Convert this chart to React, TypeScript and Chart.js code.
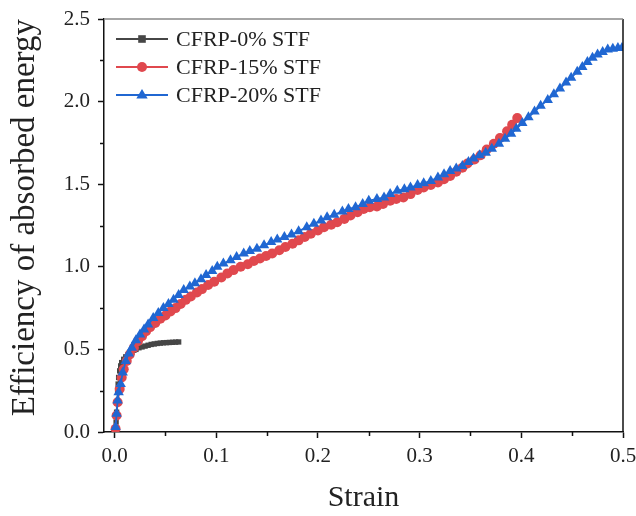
import React, { useEffect, useRef } from "react";
import { Chart, registerables } from "chart.js";
Chart.register(...registerables);

const FONT = "'Liberation Serif', 'Times New Roman', serif";

const X_TICKS = [0, 0.1, 0.2, 0.3, 0.4, 0.5];
const X_MINOR = [0.05, 0.15, 0.25, 0.35, 0.45];
const Y_TICKS = [0, 0.5, 1.0, 1.5, 2.0, 2.5];
const Y_MINOR = [0.25, 0.75, 1.25, 1.75, 2.25];

const SERIES_NAMES = ["CFRP-0% STF", "CFRP-15% STF", "CFRP-20% STF"];
const SERIES_COLORS = ["#464646", "#e0484e", "#2067d2"];

// CFRP-0% STF
const STF0_STRAIN = [0.001, 0.0015, 0.002, 0.0025, 0.003, 0.0035, 0.004, 0.005, 0.006, 0.007, 0.009, 0.011, 0.013, 0.015, 0.017, 0.019, 0.021, 0.024, 0.027, 0.03, 0.033, 0.036, 0.039, 0.042, 0.045, 0.048, 0.051, 0.054, 0.057, 0.06, 0.063];
const STF0_VALUE = [0.0, 0.06, 0.12, 0.18, 0.24, 0.29, 0.33, 0.37, 0.4, 0.42, 0.44, 0.455, 0.465, 0.475, 0.485, 0.495, 0.5, 0.51, 0.515, 0.52, 0.525, 0.53, 0.533, 0.536, 0.538, 0.54, 0.541, 0.542, 0.543, 0.544, 0.545];

// CFRP-15% STF
const STF15_STRAIN = [0.001, 0.002, 0.003, 0.005, 0.007, 0.009, 0.012, 0.015, 0.019, 0.023, 0.027, 0.031, 0.035, 0.04, 0.045, 0.05, 0.055, 0.06, 0.065, 0.07, 0.075, 0.081, 0.086, 0.092, 0.098, 0.105, 0.111, 0.117, 0.124, 0.131, 0.137, 0.143, 0.149, 0.155, 0.162, 0.168, 0.175, 0.181, 0.187, 0.193, 0.2, 0.206, 0.213, 0.219, 0.226, 0.232, 0.239, 0.245, 0.251, 0.258, 0.264, 0.271, 0.277, 0.284, 0.291, 0.298, 0.304, 0.311, 0.318, 0.324, 0.33, 0.336, 0.342, 0.347, 0.354, 0.36, 0.366, 0.373, 0.379, 0.386, 0.391, 0.396];
const STF15_VALUE = [0.02, 0.1, 0.18, 0.26, 0.33, 0.38, 0.43, 0.47, 0.51, 0.55, 0.58, 0.61, 0.635, 0.66, 0.685, 0.705, 0.73, 0.75, 0.775, 0.8, 0.82, 0.845, 0.865, 0.89, 0.91, 0.935, 0.96, 0.98, 1.0, 1.015, 1.035, 1.05, 1.065, 1.08, 1.1, 1.12, 1.14, 1.16, 1.18, 1.2, 1.22, 1.24, 1.255, 1.27, 1.29, 1.31, 1.33, 1.35, 1.36, 1.365, 1.38, 1.4, 1.41, 1.42, 1.44, 1.465, 1.48, 1.495, 1.51, 1.53, 1.55, 1.575, 1.6, 1.625, 1.65, 1.675, 1.71, 1.745, 1.78, 1.82, 1.86, 1.9];

// CFRP-20% STF
const STF20_STRAIN = [0.001, 0.002, 0.003, 0.004, 0.006, 0.008, 0.011, 0.014, 0.017, 0.021, 0.025, 0.029, 0.033, 0.038, 0.043, 0.048, 0.053, 0.058, 0.063, 0.068, 0.074, 0.079, 0.085, 0.09, 0.096, 0.101, 0.107, 0.114, 0.12, 0.127, 0.133, 0.14, 0.147, 0.154, 0.16, 0.167, 0.174, 0.181, 0.189, 0.196, 0.203, 0.209, 0.216, 0.224, 0.23, 0.237, 0.244, 0.25, 0.258, 0.265, 0.271, 0.278, 0.285, 0.291, 0.298, 0.304, 0.311, 0.318, 0.324, 0.33, 0.336, 0.342, 0.348, 0.353, 0.359, 0.365, 0.371, 0.378, 0.384, 0.39, 0.395, 0.401, 0.407, 0.413, 0.419, 0.426, 0.432, 0.438, 0.444, 0.449, 0.455, 0.46, 0.465, 0.47, 0.475, 0.48, 0.485, 0.49, 0.495, 0.499];
const STF20_VALUE = [0.03, 0.11, 0.19, 0.24, 0.29, 0.36, 0.43, 0.475, 0.51, 0.555, 0.59, 0.62, 0.65, 0.69, 0.72, 0.75, 0.775, 0.8, 0.83, 0.86, 0.88, 0.9, 0.925, 0.95, 0.975, 1.0, 1.02, 1.04, 1.06, 1.08, 1.095, 1.11, 1.13, 1.15, 1.165, 1.18, 1.195, 1.215, 1.24, 1.26, 1.28, 1.3, 1.315, 1.335, 1.35, 1.36, 1.38, 1.4, 1.41, 1.42, 1.44, 1.46, 1.47, 1.48, 1.495, 1.505, 1.52, 1.54, 1.56, 1.58, 1.595, 1.61, 1.635, 1.655, 1.675, 1.69, 1.715, 1.745, 1.775, 1.805, 1.835, 1.87, 1.905, 1.94, 1.975, 2.01, 2.045, 2.08, 2.115, 2.145, 2.18, 2.21, 2.24, 2.265, 2.285, 2.3, 2.315, 2.32, 2.325, 2.325];

const POINT_STYLES = ["rect", "circle", "triangle"];
const POINT_RADII = [3.8, 5, 6];

const toPoints = (xs: number[], ys: number[]) => xs.map((x, i) => ({ x, y: ys[i] }));

const framePlugin = {
  id: "frameMinor",
  afterDraw(chart: any) {
    const { ctx, chartArea: a, scales } = chart;
    ctx.save();
    ctx.strokeStyle = "#111";
    ctx.lineWidth = 1.5;
    ctx.beginPath();
    X_MINOR.forEach((v) => {
      const px = Math.round(scales.x.getPixelForValue(v)) + 0.5;
      ctx.moveTo(px, a.bottom);
      ctx.lineTo(px, a.bottom + 4);
    });
    Y_MINOR.forEach((v) => {
      const py = Math.round(scales.y.getPixelForValue(v)) + 0.5;
      ctx.moveTo(a.left, py);
      ctx.lineTo(a.left - 4, py);
    });
    ctx.stroke();
    ctx.beginPath();
    ctx.moveTo(a.right, a.top);
    ctx.lineTo(a.right, a.bottom);
    ctx.stroke();
    ctx.strokeStyle = "#888";
    ctx.beginPath();
    ctx.moveTo(a.left, a.top);
    ctx.lineTo(a.right, a.top);
    ctx.stroke();
    ctx.restore();
  },
};

const legendPlugin = {
  id: "innerLegend",
  afterDraw(chart: any) {
    const { ctx } = chart;
    const x0 = 116;
    const x1 = 168;
    const xm = 142;
    const rows = [39, 67, 95];
    ctx.save();
    SERIES_NAMES.forEach((name, i) => {
      const y = rows[i];
      const c = SERIES_COLORS[i];
      ctx.strokeStyle = c;
      ctx.lineWidth = 1.8;
      ctx.beginPath();
      ctx.moveTo(x0, y);
      ctx.lineTo(x1, y);
      ctx.stroke();
      ctx.fillStyle = c;
      const r = POINT_RADII[i];
      ctx.beginPath();
      if (POINT_STYLES[i] === "rect") {
        ctx.rect(xm - r, y - r, 2 * r, 2 * r);
      } else if (POINT_STYLES[i] === "circle") {
        ctx.arc(xm, y, r, 0, Math.PI * 2);
      } else {
        ctx.moveTo(xm, y - r);
        ctx.lineTo(xm + r * 0.95, y + r * 0.6);
        ctx.lineTo(xm - r * 0.95, y + r * 0.6);
        ctx.closePath();
      }
      ctx.fill();
      ctx.fillStyle = "#222";
      ctx.font = `22px ${FONT}`;
      ctx.textBaseline = "middle";
      ctx.textAlign = "left";
      ctx.fillText(name, 176, y + 1);
    });
    ctx.restore();
  },
};

export default function App() {
  const ref = useRef<HTMLCanvasElement>(null);
  useEffect(() => {
    if (!ref.current) return;
    const allX = [STF0_STRAIN, STF15_STRAIN, STF20_STRAIN];
    const allY = [STF0_VALUE, STF15_VALUE, STF20_VALUE];
    const datasets = SERIES_NAMES.map((name, i) => ({
      label: name,
      data: toPoints(allX[i], allY[i]),
      showLine: true,
      borderColor: SERIES_COLORS[i],
      backgroundColor: SERIES_COLORS[i],
      borderWidth: 1.8,
      pointStyle: POINT_STYLES[i],
      pointRadius: POINT_RADII[i],
      pointBorderWidth: 0,
      pointBackgroundColor: SERIES_COLORS[i],
      order: 3 - i,
    }));
    const chart = new Chart(ref.current, {
      type: "scatter",
      data: { datasets },
      options: {
        animation: false,
        responsive: false,
        maintainAspectRatio: false,
        layout: { padding: { top: 19, right: 13, left: 0, bottom: 0 } },
        plugins: { legend: { display: false }, tooltip: { enabled: false } },
        scales: {
          x: {
            type: "linear",
            min: -0.0104,
            max: 0.5,
            afterBuildTicks: (s: any) => {
              s.ticks = X_TICKS.map((v) => ({ value: v }));
            },
            afterFit: (s: any) => {
              s.height = 84;
              s.paddingLeft = 0;
              s.paddingRight = 0;
            },
            grid: { drawOnChartArea: false, drawTicks: true, tickLength: 6, tickColor: "#111", tickWidth: 1.5 },
            border: { color: "#111", width: 1.5 },
            ticks: {
              callback: (v: any) => Number(v).toFixed(1),
              font: { family: FONT, size: 21 },
              color: "#222",
              padding: 6,
              maxRotation: 0,
              autoSkip: false,
            },
            title: {
              display: true,
              text: "Strain",
              font: { family: FONT, size: 30 },
              color: "#222",
              padding: { top: 0, bottom: 0 },
            },
          },
          y: {
            type: "linear",
            min: 0,
            max: 2.5,
            afterBuildTicks: (s: any) => {
              s.ticks = Y_TICKS.map((v) => ({ value: v }));
            },
            afterFit: (s: any) => {
              s.width = 104;
              s.paddingTop = 0;
              s.paddingBottom = 0;
            },
            grid: { drawOnChartArea: false, drawTicks: true, tickLength: 6, tickColor: "#111", tickWidth: 1.5 },
            border: { color: "#111", width: 1.5 },
            ticks: {
              callback: (v: any) => Number(v).toFixed(1),
              font: { family: FONT, size: 21 },
              color: "#222",
              padding: 8,
              autoSkip: false,
            },
            title: {
              display: true,
              text: "Efficiency of absorbed energy",
              align: "end",
              font: { family: FONT, size: 33 },
              color: "#222",
              padding: { top: 6, bottom: 0 },
            },
          },
        },
      },
      plugins: [framePlugin, legendPlugin],
    });
    return () => chart.destroy();
  }, []);
  return (
    <div style={{ position: "fixed", left: 0, top: 0, width: 636, height: 516, background: "#fff" }}>
      <canvas ref={ref} width={636} height={516} style={{ width: 636, height: 516, display: "block" }} />
    </div>
  );
}
